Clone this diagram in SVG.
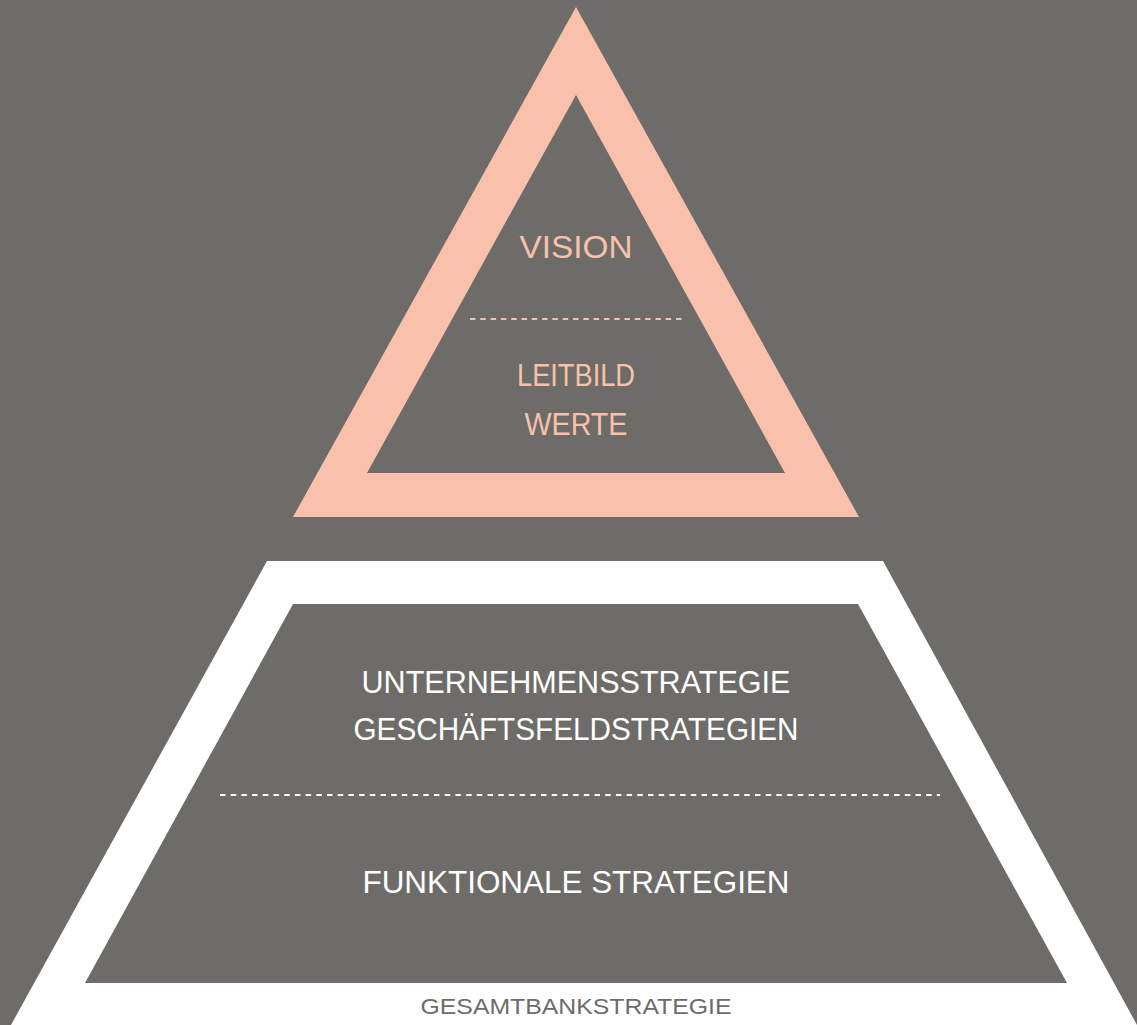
<svg xmlns="http://www.w3.org/2000/svg" width="1137" height="1025" viewBox="0 0 1137 1025">
<style>
.pk{fill:#f9c1ab}
.wh{fill:#ffffff}
.bg{fill:#6d6c68}
text{font-family:"Liberation Sans","DejaVu Sans",sans-serif;text-anchor:middle}
.tp{fill:#f9c1ab;font-size:31px}
.tw{fill:#ffffff;font-size:31px}
.tg{fill:#6d6c68;font-size:22px}
</style>
<rect width="1137" height="1025" fill="#6d6c68"/>
<g id="top-triangle">
<path class="pk" fill-rule="evenodd" d="M576 7 L859 517 L293 517 Z M576 95 L367 473 L785 473 Z"/>
<text class="tp" x="576" y="258" textLength="113" lengthAdjust="spacingAndGlyphs">VISION</text>
<text class="tp" x="576" y="386" textLength="118" lengthAdjust="spacingAndGlyphs">LEITBILD</text>
<text class="tp" x="576" y="435" textLength="103" lengthAdjust="spacingAndGlyphs">WERTE</text>
</g>
<g id="bottom-trapezoid">
<path class="wh" fill-rule="evenodd" d="M267 561 L883 561 L1137 1025 L11 1025 Z M293 604 L858 604 L1067 983 L85 983 Z"/>
<text class="tw" x="576" y="693" textLength="429" lengthAdjust="spacingAndGlyphs">UNTERNEHMENSSTRATEGIE</text>
<text class="tw" x="576" y="740" textLength="445" lengthAdjust="spacingAndGlyphs">GESCHÄFTSFELDSTRATEGIEN</text>
<text class="tw" x="576" y="893" textLength="427" lengthAdjust="spacingAndGlyphs">FUNKTIONALE STRATEGIEN</text>
<text class="tg" x="576" y="1014" textLength="311" lengthAdjust="spacingAndGlyphs">GESAMTBANKSTRATEGIE</text>
</g>
<g id="connectors">
<line x1="470" y1="319" x2="682" y2="319" stroke="#f9c1ab" stroke-width="2" stroke-dasharray="5.5 4.8"/>
<line x1="220" y1="795" x2="940" y2="795" stroke="#ffffff" stroke-width="2" stroke-dasharray="5.5 5.2"/>
</g>
</svg>
